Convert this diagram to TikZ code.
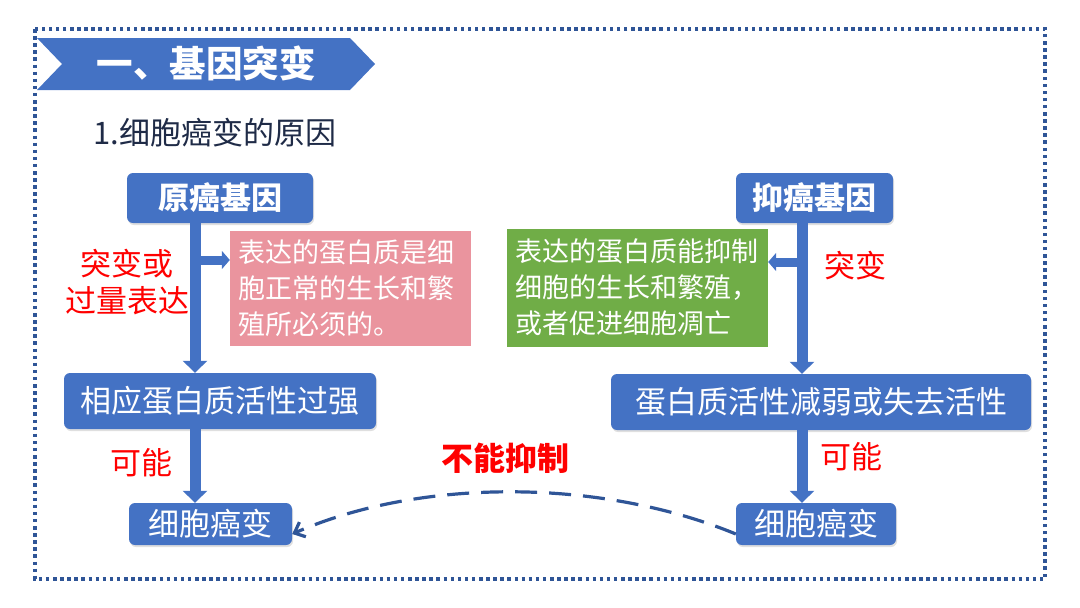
\documentclass[tikz,border=0pt]{standalone}
\usepackage{fontspec}
\setmainfont{Noto Sans CJK SC}
\usetikzlibrary{arrows.meta,shadows}
\definecolor{boxblue}{HTML}{4472C4}
\definecolor{navy}{HTML}{2F5597}
\definecolor{pinkbox}{HTML}{EA949E}
\definecolor{greenbox}{HTML}{70AD47}
\definecolor{titlecol}{HTML}{1F2B47}
\definecolor{redtext}{HTML}{FF0000}
\tikzset{
  bluebox/.style={fill=boxblue, text=white, rounded corners=6pt, inner sep=0pt,
    drop shadow={opacity=0.25, shadow xshift=1pt, shadow yshift=-2pt}},
  notebox/.style={text=white, inner sep=0pt, align=left, text depth=0pt},
  redlabel/.style={text=redtext, font=\fontsize{31pt}{37pt}\selectfont, align=center, inner sep=0pt},
  mainarrow/.style={draw=boxblue, line width=11pt, -{Triangle[width=24pt,length=12pt]}},
  brancharrow/.style={draw=boxblue, line width=9pt, -{Triangle[width=18pt,length=8pt]}},
  bigfont/.style={font=\fontsize{31pt}{36pt}\selectfont},
  notefont/.style={font=\fontsize{27pt}{36pt}\selectfont},
}
\begin{document}
\begin{tikzpicture}[x=1pt,y=-1pt]
\useasboundingbox (0,0) rectangle (1080,608);
% dotted frame
\draw[navy, line width=3.5pt, dash pattern=on 3.5pt off 3.6pt] (35,29) rectangle (1045,579);
% banner
\fill[boxblue] (37,38) -- (350,38) -- (375,64) -- (350,90) -- (37,90) -- (62,64) -- cycle;
\node[text=white, font=\fontsize{36.5pt}{40pt}\selectfont\bfseries, inner sep=0pt] (title) at (206,63) {一、基因突变};
\node[text=titlecol, font=\fontsize{31pt}{36pt}\selectfont, anchor=west, inner sep=0pt] (sub) at (93,133) {1.细胞癌变的原因};

% left column
\node[bluebox, bigfont, minimum width=186pt, minimum height=50pt] (onco) at (220,198) {\bfseries 原癌基因};
\node[fill=pinkbox, minimum width=241pt, minimum height=115pt, inner sep=0pt] (pink) at (350.5,288.5) {};
\node[notebox, notefont, anchor=north west] (pinktext) at (238,240) {表达的蛋白质是细\\胞正常的生长和繁\\殖所必须的。};
\node[bluebox, bigfont, minimum width=312pt, minimum height=56pt] (lprot) at (220,401) {相应蛋白质活性过强};
\node[bluebox, bigfont, minimum width=163pt, minimum height=42pt] (lcell) at (210.5,524) {细胞癌变};
\coordinate (lax) at (195,0);
\coordinate (lbr) at (195,260);

% right column
\node[bluebox, bigfont, minimum width=157pt, minimum height=50pt] (tsg) at (814.5,198) {\bfseries 抑癌基因};
\node[fill=greenbox, minimum width=261pt, minimum height=118pt, inner sep=0pt] (green) at (637.5,288) {};
\node[notebox, notefont, anchor=north west] (greentext) at (515,239) {表达的蛋白质能抑制\\细胞的生长和繁殖，\\或者促进细胞凋亡};
\node[bluebox, bigfont, minimum width=420pt, minimum height=56pt] (rprot) at (821,402) {蛋白质活性减弱或失去活性};
\node[bluebox, bigfont, minimum width=160pt, minimum height=42pt] (rcell) at (816,524) {细胞癌变};
\coordinate (rax) at (802,0);
\coordinate (rbr) at (802,262);

% arrows left
\draw[mainarrow] (onco.south -| lax) -- (lprot.north -| lax);
\draw[brancharrow] (lbr) -- (pink.west |- lbr);
\draw[mainarrow] (lprot.south -| lax) -- (lcell.north -| lax);
% arrows right
\draw[mainarrow] (tsg.south -| rax) -- (rprot.north -| rax);
\draw[brancharrow] (rbr) -- (green.east |- rbr);
\draw[mainarrow] (rprot.south -| rax) -- (rcell.north -| rax);

% labels
\node[redlabel] (lab1) at (127,282) {突变或\\过量表达};
\node[redlabel] (lab2) at (855,266) {突变};
\node[redlabel] (lab3) at (141,463) {可能};
\node[redlabel] (lab4) at (851,457) {可能};
\node[redlabel, font=\fontsize{32pt}{36pt}\selectfont\bfseries] (lab5) at (505,458) {不能抑制};

% dashed curve
\coordinate (cs) at ([yshift=-10pt]rcell.west);
\coordinate (ce) at ([yshift=-10pt]lcell.east);
\draw[navy, line width=3.2pt, dash pattern=on 22pt off 12pt, -{Straight Barb[length=9pt,width=16pt]}]
  (cs) .. controls (600,478) and (420,478) .. (ce);
\end{tikzpicture}
\end{document}
